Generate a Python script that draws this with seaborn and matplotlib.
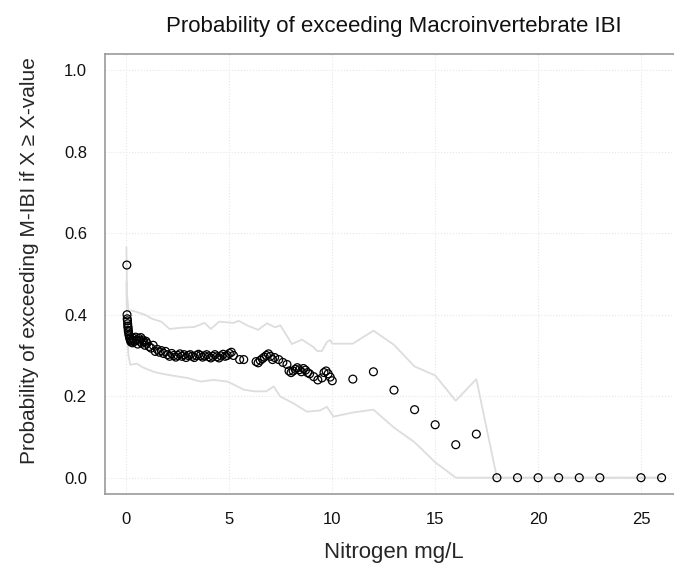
import matplotlib
matplotlib.use('Agg')
import matplotlib.pyplot as plt
import seaborn as sns
import pandas as pd

# 观测点: 氮浓度 (mg/L) 与超过 M-IBI 的概率
nitrogen = [0.02, 0.03, 0.04, 0.05, 0.06, 0.07, 0.08, 0.09, 0.10, 0.12,
            0.14, 0.16, 0.18, 0.20, 0.23, 0.26, 0.30, 0.35, 0.40, 0.45,
            0.50, 0.55, 0.60, 0.65, 0.70, 0.75, 0.80, 0.85, 0.90, 0.95,
            1.0, 1.1, 1.2, 1.3, 1.4, 1.5, 1.6, 1.7, 1.8, 1.9,
            2.0, 2.1, 2.2, 2.3, 2.4, 2.5, 2.6, 2.7, 2.8, 2.9,
            3.0, 3.1, 3.2, 3.3, 3.4, 3.5, 3.6, 3.7, 3.8, 3.9,
            4.0, 4.1, 4.2, 4.3, 4.4, 4.5, 4.6, 4.7, 4.8, 4.9,
            5.0, 5.1, 5.2, 5.5, 5.7, 6.3, 6.4, 6.5, 6.6, 6.7,
            6.8, 6.9, 7.0, 7.1, 7.2, 7.4, 7.6, 7.8, 7.9, 8.0,
            8.1, 8.2, 8.3, 8.4, 8.5, 8.6, 8.7, 8.8, 8.9, 9.1,
            9.3, 9.5, 9.6, 9.7, 9.8, 9.9, 10.0,
            11, 12, 13, 14, 15, 16, 17, 18, 19, 20, 21, 22, 23, 25, 26]
prob = [0.522, 0.400, 0.390, 0.385, 0.378, 0.372, 0.368, 0.362, 0.358, 0.352,
        0.348, 0.343, 0.340, 0.336, 0.333, 0.338, 0.331, 0.342, 0.335, 0.345,
        0.338, 0.328, 0.342, 0.335, 0.344, 0.330, 0.338, 0.333, 0.325, 0.335,
        0.330, 0.322, 0.318, 0.325, 0.310, 0.315, 0.308, 0.312, 0.305, 0.310,
        0.302, 0.298, 0.305, 0.300, 0.296, 0.300, 0.304, 0.298, 0.302, 0.295,
        0.300, 0.302, 0.298, 0.295, 0.300, 0.303, 0.300, 0.296, 0.299, 0.302,
        0.297, 0.294, 0.298, 0.302, 0.297, 0.294, 0.299, 0.303, 0.298, 0.300,
        0.305, 0.308, 0.300, 0.290, 0.290, 0.285, 0.282, 0.288, 0.292, 0.296,
        0.300, 0.304, 0.298, 0.290, 0.295, 0.290, 0.283, 0.278, 0.262, 0.258,
        0.262, 0.266, 0.270, 0.265, 0.260, 0.268, 0.264, 0.258, 0.255, 0.248,
        0.240, 0.245, 0.258, 0.262, 0.255, 0.247, 0.238,
        0.242, 0.260, 0.215, 0.167, 0.130, 0.081, 0.107, 0.0, 0.0, 0.0, 0.0, 0.0, 0.0, 0.0, 0.0]

# 置信区间上界
upper_x = [0, 0.03, 0.1, 0.3, 0.6, 0.9, 1.25, 1.7, 2.1, 2.6, 3.3, 3.8, 4.1, 4.5,
           5.2, 5.45, 5.9, 6.4, 6.83, 7.23, 7.48, 8.04, 8.53, 9.1, 9.26, 9.5,
           9.74, 9.9, 10.0, 11.0, 12.0, 13.0, 14.0, 15.0, 16.0, 17.0, 18.0, 26.0]
upper_y = [0.566, 0.45, 0.41, 0.41, 0.405, 0.40, 0.39, 0.383, 0.365, 0.368, 0.37,
           0.38, 0.365, 0.383, 0.38, 0.385, 0.373, 0.363, 0.379, 0.369, 0.374,
           0.328, 0.339, 0.32, 0.311, 0.311, 0.333, 0.338, 0.329, 0.329, 0.361,
           0.326, 0.273, 0.251, 0.189, 0.242, 0.0, 0.0]

# 置信区间下界
lower_x = [0, 0.03, 0.1, 0.19, 0.5, 0.83, 1.33, 1.65, 2.3, 2.95, 3.6, 4.24, 4.9,
           5.2, 5.7, 6.2, 6.8, 7.15, 7.48, 8.1, 8.77, 9.4, 9.74, 10.06, 11.0,
           12.0, 13.0, 14.0, 15.0, 16.0, 26.0]
lower_y = [0.48, 0.36, 0.30, 0.277, 0.28, 0.27, 0.26, 0.256, 0.25, 0.245, 0.236,
           0.24, 0.236, 0.229, 0.216, 0.212, 0.212, 0.224, 0.199, 0.183, 0.162,
           0.165, 0.174, 0.15, 0.16, 0.167, 0.123, 0.087, 0.038, 0.0, 0.0]

x_ticks = [0, 5, 10, 15, 20, 25]
y_ticks = [0.0, 0.2, 0.4, 0.6, 0.8, 1.0]

sns.set_style('white')
plt.rcParams['font.family'] = ['Liberation Sans', 'DejaVu Sans']

fig = plt.figure(figsize=(6.74, 5.74), dpi=100)
ax = fig.add_axes([105 / 674, 80 / 574, 578 / 674, 440 / 574])

ci_color = '#dddddd'
sns.lineplot(x=upper_x, y=upper_y, ax=ax, color=ci_color, linewidth=1.3,
             estimator=None, sort=False)
sns.lineplot(x=lower_x, y=lower_y, ax=ax, color=ci_color, linewidth=1.3,
             estimator=None, sort=False)

pts = pd.DataFrame({'x': nitrogen, 'y': prob})
sns.scatterplot(data=pts, x='x', y='y', ax=ax, marker='o', s=32,
                facecolor='none', edgecolor='black', linewidth=0.9, zorder=3)

ax.set_xlim(-1.04, 27.04)
ax.set_ylim(-0.04, 1.04)
ax.set_xticks(x_ticks)
ax.set_yticks(y_ticks)
ax.set_yticklabels([f'{v:.1f}' for v in y_ticks])
ax.grid(True, linestyle=':', color='#e6e6e6', linewidth=0.8)
ax.set_axisbelow(True)

for sp in ax.spines.values():
    sp.set_color('#999999')
    sp.set_linewidth(1.2)
ax.tick_params(axis='both', direction='out', length=6, width=1.0,
               color='#999999', labelsize=12, labelcolor='#111111', pad=7)

ax.set_xlabel('Nitrogen mg/L', fontsize=16, labelpad=11)
ax.set_ylabel('Probability of exceeding M-IBI if X \u2265 X-value', fontsize=15)
ax.yaxis.set_label_coords(-0.114, 0.53)
ax.set_title('Probability of exceeding Macroinvertebrate IBI', fontsize=16, pad=16,
             color='#111111')

plt.savefig('out.png', dpi=100)
plt.close()
